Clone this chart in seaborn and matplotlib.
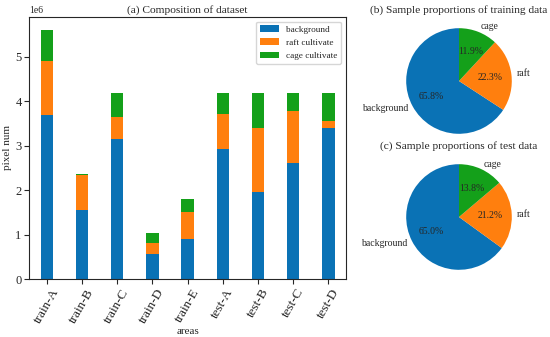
import numpy as np
import pandas as pd
import seaborn as sns
import matplotlib.pyplot as plt

sns.set_style("ticks")
plt.rcParams["font.family"] = ["Liberation Serif", "DejaVu Serif"]
plt.rcParams["font.size"] = 8

areas = ["train-A", "train-B", "train-C", "train-D", "train-E",
         "test-A", "test-B", "test-C", "test-D"]
background = [3.69, 1.56, 3.15, 0.555, 0.90, 2.93, 1.965, 2.60, 3.40]
raft = [1.22, 0.77, 0.49, 0.265, 0.615, 0.78, 1.425, 1.18, 0.16]
cage = [0.69, 0.03, 0.54, 0.215, 0.285, 0.48, 0.80, 0.41, 0.63]

pie_labels = ["background", "raft", "cage"]
train_pct = [65.8, 22.3, 11.9]
test_pct = [65.0, 21.2, 13.8]

bg_color = "#0a72b5"
raft_color = "#ff7f0e"
cage_color = "#14a01a"
colors = [bg_color, raft_color, cage_color]

df = pd.DataFrame({"areas": areas, "background": background, "raft": raft, "cage": cage})
df["bg_raft"] = df["background"] + df["raft"]
df["total"] = df["bg_raft"] + df["cage"]
scale = 1e6

fig = plt.figure(figsize=(5.5, 3.37), dpi=100)
ax = fig.add_axes([0.053, 0.172, 0.576, 0.778])

# stacked bars drawn as layered cumulative totals
for col, c, lab in [("total", cage_color, "cage cultivate"),
                    ("bg_raft", raft_color, "raft cultivate"),
                    ("background", bg_color, "background")]:
    sns.barplot(x=df["areas"], y=df[col] * scale, color=c, saturation=1,
                width=0.35, label=lab, linewidth=0, ax=ax)

ax.set_title("(a) Composition of dataset", fontsize=8.2, pad=3)
ax.set_xlabel("areas", fontsize=8, labelpad=1)
ax.set_ylabel("pixel num", fontsize=8, labelpad=2)
ax.set_ylim(0, 5.9e6)
ax.tick_params(axis="y", labelsize=9, pad=2)
ax.tick_params(axis="x", labelsize=9.5, pad=2, rotation=60)
for t in ax.get_xticklabels():
    t.set_ha("center")
    t.set_va("top")
ax.yaxis.get_offset_text().set_fontsize(7)
h, l = ax.get_legend_handles_labels()
order = [l.index("background"), l.index("raft cultivate"), l.index("cage cultivate")]
ax.legend([h[i] for i in order], [l[i] for i in order], loc="upper right", fontsize=6.7)

# pies
W, H = 550, 337
for cy, vals, title, pad in [(81, train_pct, "(b) Sample proportions of training data", 0),
                             (217, test_pct, "(c) Sample proportions of test data", 1.5)]:
    cx, half = 459, 66
    pax = fig.add_axes([(cx - half) / W, (H - cy - half) / H, 2 * half / W, 2 * half / H])
    pax.pie(vals, labels=pie_labels, colors=colors, startangle=90,
            autopct="%1.1f%%", textprops={"fontsize": 7},
            wedgeprops={"linewidth": 0})
    pax.set_title(title, fontsize=8.2, pad=pad)
    pax.set_aspect("equal")

fig.savefig("out.png", dpi=100)
